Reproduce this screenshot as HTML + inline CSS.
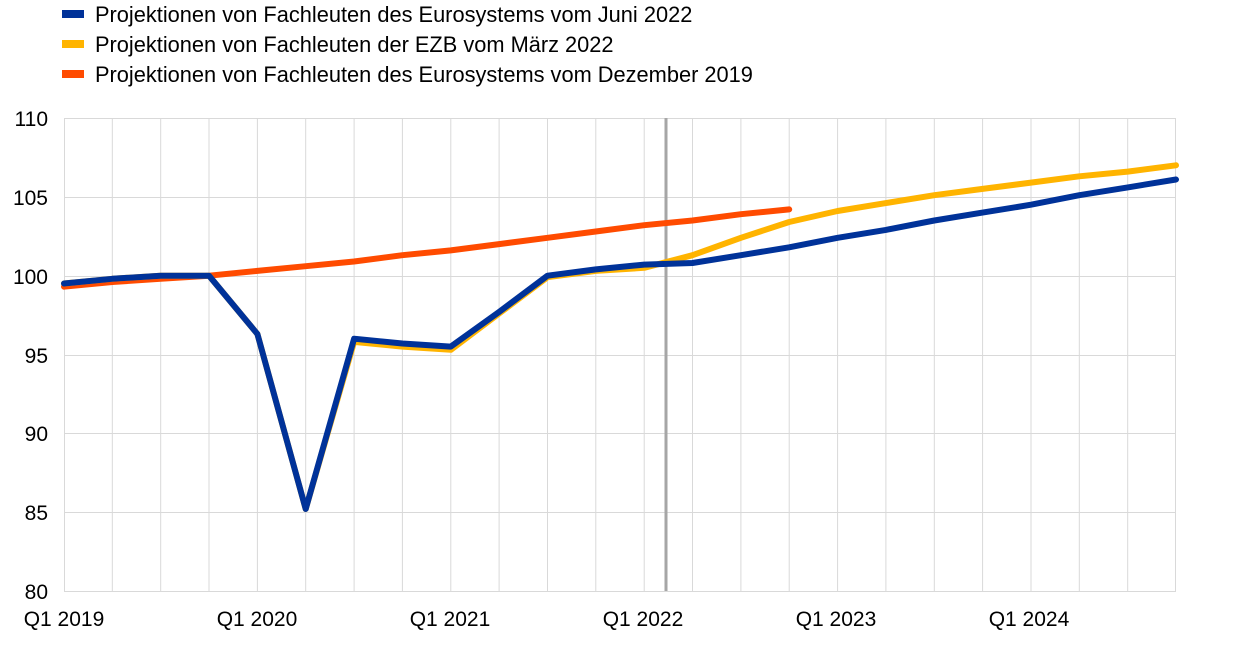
<!DOCTYPE html>
<html><head><meta charset="utf-8"><style>
body{margin:0;background:#fff;}
svg text{font-family:"Liberation Sans",Arial,sans-serif;fill:#000;}
</style></head><body>
<svg width="1240" height="645" xmlns="http://www.w3.org/2000/svg">
<rect width="1240" height="645" fill="#fff"/>
<rect x="62" y="10" width="22" height="8" fill="#003299"/>
<text x="95" y="22" font-size="21.8">Projektionen von Fachleuten des Eurosystems vom Juni 2022</text>
<rect x="62" y="40" width="22" height="8" fill="#FFB400"/>
<text x="95" y="52" font-size="21.8">Projektionen von Fachleuten der EZB vom März 2022</text>
<rect x="62" y="70" width="22" height="8" fill="#FF4B00"/>
<text x="95" y="82" font-size="21.8">Projektionen von Fachleuten des Eurosystems vom Dezember 2019</text>
<g stroke="#d9d9d9" stroke-width="1">
<line x1="64" y1="118.5" x2="1176" y2="118.5"/>
<line x1="64" y1="197.5" x2="1176" y2="197.5"/>
<line x1="64" y1="276.5" x2="1176" y2="276.5"/>
<line x1="64" y1="355.5" x2="1176" y2="355.5"/>
<line x1="64" y1="433.5" x2="1176" y2="433.5"/>
<line x1="64" y1="512.5" x2="1176" y2="512.5"/>
<line x1="64" y1="591.5" x2="1176" y2="591.5"/>
<line x1="64.5" y1="118" x2="64.5" y2="591"/>
<line x1="112.3" y1="118" x2="112.3" y2="591"/>
<line x1="160.7" y1="118" x2="160.7" y2="591"/>
<line x1="209" y1="118" x2="209" y2="591"/>
<line x1="257.4" y1="118" x2="257.4" y2="591"/>
<line x1="305.7" y1="118" x2="305.7" y2="591"/>
<line x1="354.1" y1="118" x2="354.1" y2="591"/>
<line x1="402.4" y1="118" x2="402.4" y2="591"/>
<line x1="450.8" y1="118" x2="450.8" y2="591"/>
<line x1="499.1" y1="118" x2="499.1" y2="591"/>
<line x1="547.5" y1="118" x2="547.5" y2="591"/>
<line x1="595.8" y1="118" x2="595.8" y2="591"/>
<line x1="644.2" y1="118" x2="644.2" y2="591"/>
<line x1="692.5" y1="118" x2="692.5" y2="591"/>
<line x1="740.9" y1="118" x2="740.9" y2="591"/>
<line x1="789.2" y1="118" x2="789.2" y2="591"/>
<line x1="837.6" y1="118" x2="837.6" y2="591"/>
<line x1="885.9" y1="118" x2="885.9" y2="591"/>
<line x1="934.3" y1="118" x2="934.3" y2="591"/>
<line x1="982.6" y1="118" x2="982.6" y2="591"/>
<line x1="1031" y1="118" x2="1031" y2="591"/>
<line x1="1079.3" y1="118" x2="1079.3" y2="591"/>
<line x1="1127.7" y1="118" x2="1127.7" y2="591"/>
<line x1="1175.5" y1="118" x2="1175.5" y2="591"/>
</g>
<line x1="666" y1="118" x2="666" y2="591" stroke="#a6a6a6" stroke-width="3"/>
<g font-size="21" text-anchor="end">
<text x="48" y="126">110</text><text x="48" y="205">105</text><text x="48" y="284">100</text>
<text x="48" y="363">95</text><text x="48" y="441">90</text><text x="48" y="520">85</text><text x="48" y="599">80</text>
</g>
<g font-size="21" text-anchor="middle">
<text x="64" y="626">Q1 2019</text><text x="257" y="626">Q1 2020</text><text x="450" y="626">Q1 2021</text>
<text x="643" y="626">Q1 2022</text><text x="836" y="626">Q1 2023</text><text x="1029" y="626">Q1 2024</text>
</g>
<g fill="none" stroke-linejoin="round" stroke-linecap="round" stroke-width="6">
<path stroke="#FF4B00" d="M64 286.7L112.3 282L160.7 278.8L209 275.7L257.4 270.9L305.7 266.2L354.1 261.5L402.4 255.2L450.8 250.4L499.1 244.1L547.5 237.8L595.8 231.5L644.2 225.2L692.5 220.5L740.9 214.2L789.2 209.4"/>
<path stroke="#FFB400" d="M64 283.5L112.3 278.8L160.7 275.7L209 275.7L257.4 334L305.7 509L354.1 341.9L402.4 346.6L450.8 349.8L499.1 313.5L547.5 277.2L595.8 270.9L644.2 267.8L692.5 255.2L740.9 237.8L789.2 222L837.6 211L885.9 203.1L934.3 195.2L982.6 188.9L1031 182.6L1079.3 176.3L1127.7 171.6L1176 165.3"/>
<path stroke="#003299" d="M64 283.5L112.3 278.8L160.7 275.7L209 275.7L257.4 334L305.7 509L354.1 338.7L402.4 343.5L450.8 346.6L499.1 311.9L547.5 275.7L595.8 269.4L644.2 264.6L692.5 263L740.9 255.2L789.2 247.3L837.6 237.8L885.9 229.9L934.3 220.5L982.6 212.6L1031 204.7L1079.3 195.2L1127.7 187.4L1176 179.5"/>
</g>
</svg>
</body></html>
